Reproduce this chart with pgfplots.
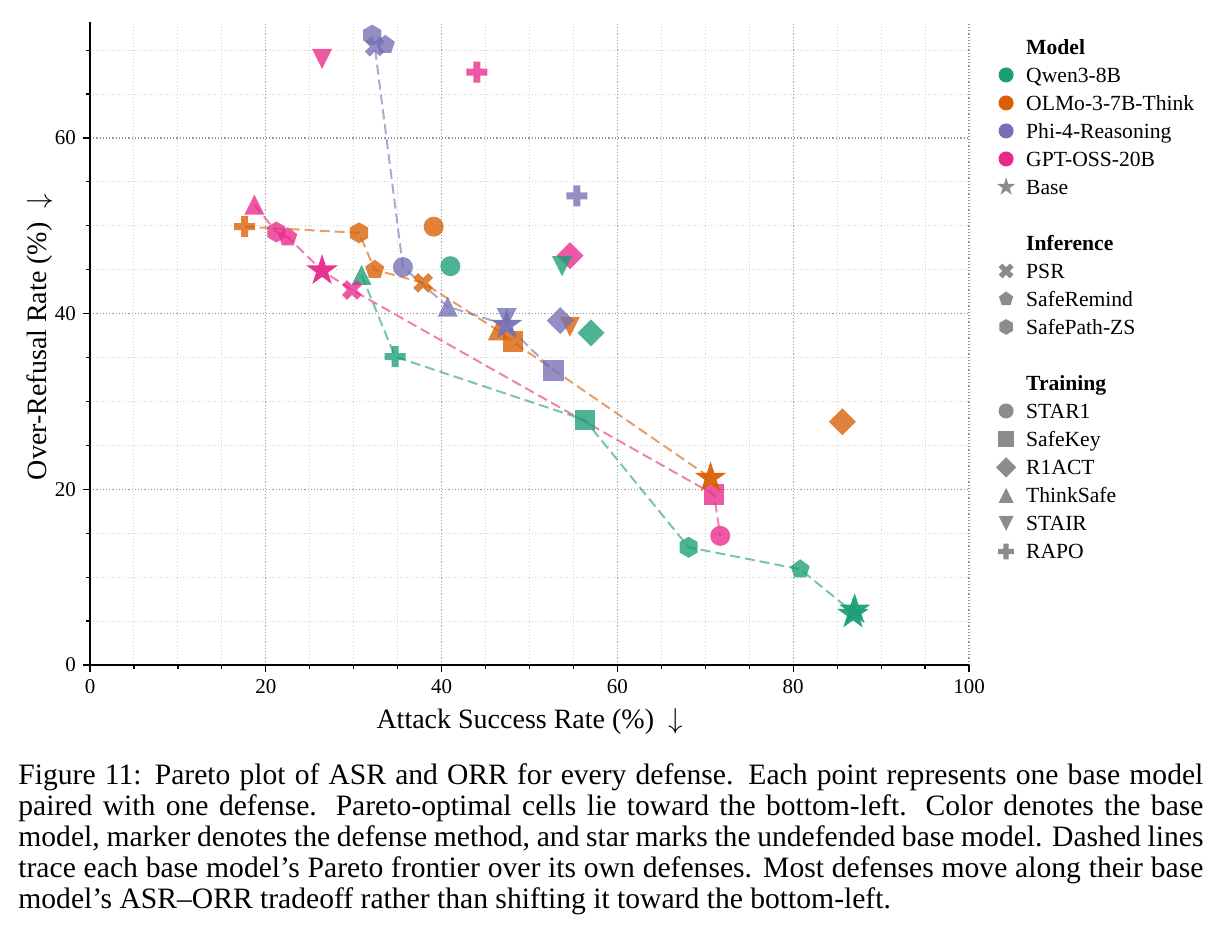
\documentclass[border=0pt]{standalone}
\usepackage{pgfplots}
\pgfplotsset{compat=1.18}
\usepackage{fontspec}
\setmainfont{Liberation Serif}
\definecolor{cQ}{HTML}{1B9E77}
\definecolor{cO}{HTML}{D95F02}
\definecolor{cP}{HTML}{7570B3}
\definecolor{cG}{HTML}{E7298A}
\definecolor{cL}{HTML}{8C8C8C}
\pgfdeclareplotmark{mcircle}{\pgfpathcircle{\pgfpointorigin}{\pgfplotmarksize}\pgfusepathqfill}
\pgfdeclareplotmark{msquare}{\pgfpathrectangle{\pgfpoint{-1.03\pgfplotmarksize}{-1.03\pgfplotmarksize}}{\pgfpoint{2.06\pgfplotmarksize}{2.06\pgfplotmarksize}}\pgfusepathqfill}
\pgfdeclareplotmark{mdiamond}{\pgfpathmoveto{\pgfpoint{0pt}{1.35\pgfplotmarksize}}\pgfpathlineto{\pgfpoint{1.35\pgfplotmarksize}{0pt}}\pgfpathlineto{\pgfpoint{0pt}{-1.35\pgfplotmarksize}}\pgfpathlineto{\pgfpoint{-1.35\pgfplotmarksize}{0pt}}\pgfpathclose\pgfusepathqfill}
\pgfdeclareplotmark{mtriup}{\pgfpathmoveto{\pgfpoint{0pt}{\pgfplotmarksize}}\pgfpathlineto{\pgfpoint{\pgfplotmarksize}{-\pgfplotmarksize}}\pgfpathlineto{\pgfpoint{-\pgfplotmarksize}{-\pgfplotmarksize}}\pgfpathclose\pgfusepathqfill}
\pgfdeclareplotmark{mtridown}{\pgfpathmoveto{\pgfpoint{0pt}{-\pgfplotmarksize}}\pgfpathlineto{\pgfpoint{\pgfplotmarksize}{\pgfplotmarksize}}\pgfpathlineto{\pgfpoint{-\pgfplotmarksize}{\pgfplotmarksize}}\pgfpathclose\pgfusepathqfill}
\pgfdeclareplotmark{mpent}{\pgfpathmoveto{\pgfpointpolar{90}{\pgfplotmarksize}}\pgfpathlineto{\pgfpointpolar{162}{\pgfplotmarksize}}\pgfpathlineto{\pgfpointpolar{234}{\pgfplotmarksize}}\pgfpathlineto{\pgfpointpolar{306}{\pgfplotmarksize}}\pgfpathlineto{\pgfpointpolar{18}{\pgfplotmarksize}}\pgfpathclose\pgfusepathqfill}
\pgfdeclareplotmark{mhex}{\pgfpathmoveto{\pgfpointpolar{90}{1.05\pgfplotmarksize}}\pgfpathlineto{\pgfpointpolar{150}{1.05\pgfplotmarksize}}\pgfpathlineto{\pgfpointpolar{210}{1.05\pgfplotmarksize}}\pgfpathlineto{\pgfpointpolar{270}{1.05\pgfplotmarksize}}\pgfpathlineto{\pgfpointpolar{330}{1.05\pgfplotmarksize}}\pgfpathlineto{\pgfpointpolar{30}{1.05\pgfplotmarksize}}\pgfpathclose\pgfusepathqfill}
\pgfdeclareplotmark{mstar}{\pgfpathmoveto{\pgfpointpolar{90}{1.65\pgfplotmarksize}}\pgfpathlineto{\pgfpointpolar{126}{0.63\pgfplotmarksize}}\pgfpathlineto{\pgfpointpolar{162}{1.65\pgfplotmarksize}}\pgfpathlineto{\pgfpointpolar{198}{0.63\pgfplotmarksize}}\pgfpathlineto{\pgfpointpolar{234}{1.65\pgfplotmarksize}}\pgfpathlineto{\pgfpointpolar{270}{0.63\pgfplotmarksize}}\pgfpathlineto{\pgfpointpolar{306}{1.65\pgfplotmarksize}}\pgfpathlineto{\pgfpointpolar{342}{0.63\pgfplotmarksize}}\pgfpathlineto{\pgfpointpolar{18}{1.65\pgfplotmarksize}}\pgfpathlineto{\pgfpointpolar{54}{0.63\pgfplotmarksize}}\pgfpathclose\pgfusepathqfill}
\newcommand{\plusshape}{%
\pgfpathmoveto{\pgfpoint{0.35\pgfplotmarksize}{1.05\pgfplotmarksize}}%
\pgfpathlineto{\pgfpoint{0.35\pgfplotmarksize}{0.35\pgfplotmarksize}}%
\pgfpathlineto{\pgfpoint{1.05\pgfplotmarksize}{0.35\pgfplotmarksize}}%
\pgfpathlineto{\pgfpoint{1.05\pgfplotmarksize}{-0.35\pgfplotmarksize}}%
\pgfpathlineto{\pgfpoint{0.35\pgfplotmarksize}{-0.35\pgfplotmarksize}}%
\pgfpathlineto{\pgfpoint{0.35\pgfplotmarksize}{-1.05\pgfplotmarksize}}%
\pgfpathlineto{\pgfpoint{-0.35\pgfplotmarksize}{-1.05\pgfplotmarksize}}%
\pgfpathlineto{\pgfpoint{-0.35\pgfplotmarksize}{-0.35\pgfplotmarksize}}%
\pgfpathlineto{\pgfpoint{-1.05\pgfplotmarksize}{-0.35\pgfplotmarksize}}%
\pgfpathlineto{\pgfpoint{-1.05\pgfplotmarksize}{0.35\pgfplotmarksize}}%
\pgfpathlineto{\pgfpoint{-0.35\pgfplotmarksize}{0.35\pgfplotmarksize}}%
\pgfpathlineto{\pgfpoint{-0.35\pgfplotmarksize}{1.05\pgfplotmarksize}}%
\pgfpathclose}
\pgfdeclareplotmark{mplus}{\plusshape\pgfusepathqfill}
\pgfdeclareplotmark{mx}{\begin{pgfscope}\pgftransformrotate{45}\plusshape\pgfusepathqfill\end{pgfscope}}
\newcommand{\dpt}[4]{\addplot[forget plot, only marks, mark=#1, mark size=5pt, mark options={fill=#2, draw=none, fill opacity=0.78}] coordinates {(#3,#4)};}
\newcommand{\spt}[3]{\addplot[forget plot, only marks, mark=mstar, mark size=5pt, mark options={fill=#1, draw=none, fill opacity=0.95}] coordinates {(#2,#3)};}
\newcommand{\lgm}[2]{\addlegendimage{only marks, mark=#1, mark size=3.75pt, mark options={fill=#2, draw=none}}}
\begin{document}
\begin{tikzpicture}
\path[use as bounding box] (0,0) rectangle (610.5pt,467pt);
\begin{axis}[
  at={(45pt,134.5pt)}, anchor=south west,
  scale only axis, width=439.5pt, height=321.5pt,
  xmin=0, xmax=100, ymin=0, ymax=73.2,
  axis lines*=left,
  axis line style={black, line width=0.8pt},
  xtick={0,20,40,60,80,100}, ytick={0,20,40,60},
  minor xtick={5,10,15,25,30,35,45,50,55,65,70,75,85,90,95},
  minor ytick={5,10,15,25,30,35,45,50,55,65,70},
  grid=both,
  major grid style={color=black!40, line width=0.6pt, dash pattern=on 0.6pt off 1pt},
  minor grid style={color=black!15, line width=0.5pt, dash pattern=on 0.6pt off 1pt},
  tick align=outside, tick pos=left,
  major tick length=3.5pt, minor tick length=2pt,
  tick style={black, line width=0.6pt},
  ticklabel style={font=\fontsize{10.5}{12}\selectfont},
  /pgf/number format/assume math mode=true,
  xlabel={Attack Success Rate (\%)\ \ $\downarrow$},
  ylabel={Over-Refusal Rate (\%)\ \ $\downarrow$},
  label style={font=\fontsize{14}{16}\selectfont},
  x label style={at={(axis description cs:0.5,-0.098)}, anchor=base},
  y label style={at={(axis description cs:-0.049,0.51)}, anchor=base},
  legend cell align=left,
  legend image post style={yshift=2.2pt},
  legend style={at={(axis description cs:1.0155,0.983)}, anchor=north west, draw=none, fill=none,
    font=\fontsize{10.8}{12}\selectfont, row sep=0pt, column sep=5pt,
    nodes={inner sep=0pt, text height=8.5pt, text depth=5.5pt}},
]
\addlegendimage{empty legend}\addlegendentry{\textbf{Model}}
\lgm{mcircle}{cQ}\addlegendentry{Qwen3-8B}
\lgm{mcircle}{cO}\addlegendentry{OLMo-3-7B-Think}
\lgm{mcircle}{cP}\addlegendentry{Phi-4-Reasoning}
\lgm{mcircle}{cG}\addlegendentry{GPT-OSS-20B}
\addlegendimage{only marks, mark=mstar, mark size=2.9pt, mark options={fill=cL, draw=none}}\addlegendentry{Base}
\addlegendimage{empty legend}\addlegendentry{}
\addlegendimage{empty legend}\addlegendentry{\textbf{Inference}}
\lgm{mx}{cL}\addlegendentry{PSR}
\lgm{mpent}{cL}\addlegendentry{SafeRemind}
\lgm{mhex}{cL}\addlegendentry{SafePath-ZS}
\addlegendimage{empty legend}\addlegendentry{}
\addlegendimage{empty legend}\addlegendentry{\textbf{Training}}
\lgm{mcircle}{cL}\addlegendentry{STAR1}
\lgm{msquare}{cL}\addlegendentry{SafeKey}
\lgm{mdiamond}{cL}\addlegendentry{R1ACT}
\lgm{mtriup}{cL}\addlegendentry{ThinkSafe}
\lgm{mtridown}{cL}\addlegendentry{STAIR}
\lgm{mplus}{cL}\addlegendentry{RAPO}
% Pareto frontiers
\addplot[forget plot, cQ, opacity=0.6, line width=1pt, dash pattern=on 5pt off 2.5pt] coordinates {(30.9,44.4) (34.7,35.1) (56.3,27.9) (68.1,13.4) (80.8,10.9) (86.8,6.0)};
\addplot[forget plot, cO, opacity=0.6, line width=1pt, dash pattern=on 5pt off 2.5pt] coordinates {(17.6,49.9) (30.6,49.2) (32.4,45.0) (37.9,43.5) (46.4,38.1) (48.1,36.8) (70.6,21.3)};
\addplot[forget plot, cP, opacity=0.6, line width=1pt, dash pattern=on 5pt off 2.5pt] coordinates {(32.1,71.7) (32.4,70.4) (35.6,45.3) (40.7,40.8) (47.4,38.7) (52.7,33.5)};
\addplot[forget plot, cG, opacity=0.6, line width=1pt, dash pattern=on 5pt off 2.5pt] coordinates {(18.7,52.4) (21.2,49.3) (22.5,48.7) (26.4,44.9) (29.8,42.7) (71.0,19.4) (71.7,14.7)};
% Qwen3-8B
\dpt{mcircle}{cQ}{41.0}{45.4}
\dpt{msquare}{cQ}{56.3}{27.9}
\dpt{mdiamond}{cQ}{57.0}{37.8}
\dpt{mtriup}{cQ}{30.9}{44.4}
\dpt{mplus}{cQ}{34.7}{35.1}
\dpt{mpent}{cQ}{80.8}{10.9}
\dpt{mhex}{cQ}{68.1}{13.4}
% OLMo-3-7B-Think
\dpt{mcircle}{cO}{39.1}{49.9}
\dpt{mdiamond}{cO}{85.6}{27.7}
\dpt{mtriup}{cO}{46.4}{38.1}
\dpt{mtridown}{cO}{54.6}{38.5}
\dpt{mplus}{cO}{17.6}{49.9}
\dpt{mx}{cO}{37.9}{43.5}
\dpt{mpent}{cO}{32.4}{45.0}
\dpt{mhex}{cO}{30.6}{49.2}
% Phi-4-Reasoning
\dpt{mcircle}{cP}{35.6}{45.3}
\dpt{msquare}{cP}{52.7}{33.5}
\dpt{mdiamond}{cP}{53.5}{39.2}
\dpt{mtriup}{cP}{40.7}{40.8}
\dpt{mtridown}{cP}{47.4}{39.5}
\dpt{mplus}{cP}{55.4}{53.4}
\dpt{mhex}{cP}{32.1}{71.7}
\dpt{mpent}{cP}{33.6}{70.6}
\dpt{mx}{cP}{32.4}{70.4}
% GPT-OSS-20B
\dpt{mcircle}{cG}{71.7}{14.7}
\dpt{msquare}{cG}{71.0}{19.4}
\dpt{mdiamond}{cG}{54.6}{46.6}
\dpt{mtriup}{cG}{18.7}{52.4}
\dpt{mtridown}{cG}{26.4}{69.0}
\dpt{mplus}{cG}{44.0}{67.5}
\dpt{mx}{cG}{29.8}{42.7}
\dpt{mpent}{cG}{22.5}{48.7}
\dpt{mhex}{cG}{21.2}{49.3}
\dpt{mtridown}{cQ}{53.7}{45.4}
\dpt{msquare}{cO}{48.1}{36.8}
% Base models
\spt{cQ}{87.0}{6.3}
\spt{cQ}{86.8}{5.8}
\spt{cO}{70.6}{21.3}
\spt{cP}{47.4}{38.7}
\spt{cG}{26.4}{44.9}
\end{axis}
\begin{scope}[every node/.style={anchor=base west, inner sep=0pt, font=\fontsize{14.8}{15.5}\selectfont}]
\node at (9pt,75pt) {\hbox to 592.5pt{Figure 11: Pareto plot of ASR and ORR for every defense. Each point represents one base model}};
\node at (9pt,59.5pt) {\hbox to 592.5pt{paired with one defense. Pareto-optimal cells lie toward the bottom-left. Color denotes the base}};
\node at (9pt,44pt) {\hbox to 592.5pt{model, marker denotes the defense method, and star marks the undefended base model. Dashed lines}};
\node at (9pt,28.5pt) {\hbox to 592.5pt{trace each base model's Pareto frontier over its own defenses. Most defenses move along their base}};
\node at (9pt,13pt) {model's ASR--ORR tradeoff rather than shifting it toward the bottom-left.};
\end{scope}
\end{tikzpicture}
\end{document}
